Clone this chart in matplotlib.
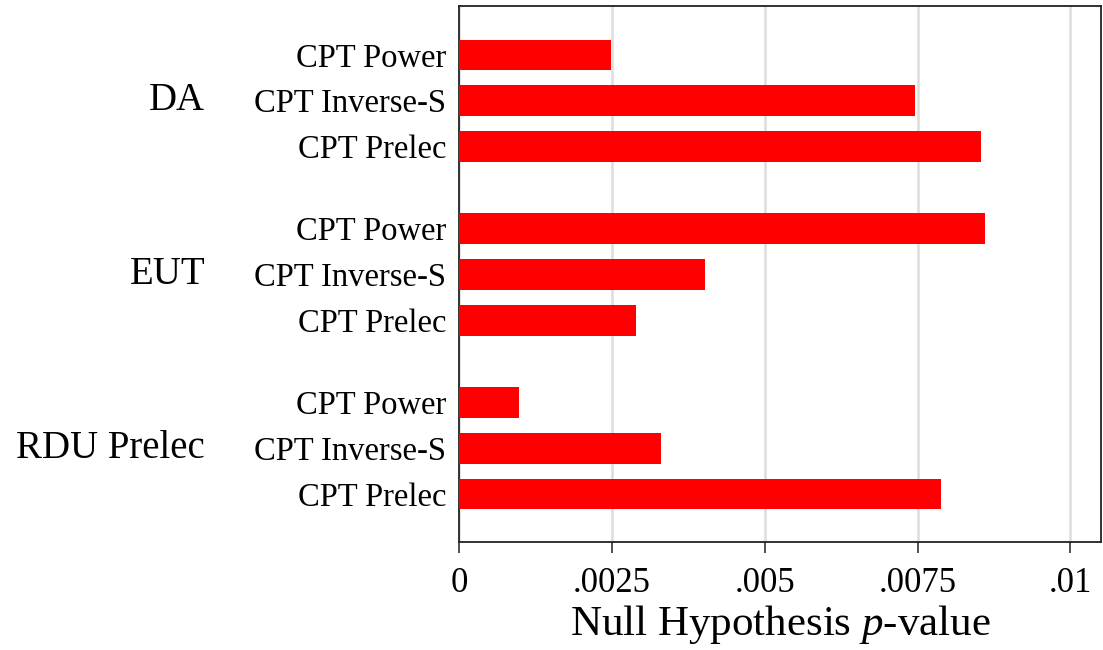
import matplotlib
matplotlib.use("Agg")
from matplotlib import pyplot as plt
import matplotlib.transforms as mtransforms

plt.rcParams['font.family'] = ['Liberation Serif', 'DejaVu Serif']
plt.rcParams['mathtext.fontset'] = 'custom'
plt.rcParams['mathtext.rm'] = 'Liberation Serif'
plt.rcParams['mathtext.it'] = 'Liberation Serif:italic'

groups = ['DA', 'EUT', 'RDU Prelec']
models = ['CPT Power', 'CPT Inverse-S', 'CPT Prelec']
pvalues = {
    'DA': [0.00249, 0.00745, 0.00854],
    'EUT': [0.00860, 0.00402, 0.00289],
    'RDU Prelec': [0.00098, 0.00331, 0.00788],
}
xticks = [0, 0.0025, 0.005, 0.0075, 0.01]
xticklabels = ['0', '.0025', '.005', '.0075', '.01']

group_step = 3.8  # three bars plus a gap

fig = plt.figure(figsize=(11.03, 6.5), dpi=100)
ax = fig.add_axes([459 / 1103, 108 / 650, (1101 - 459) / 1103, (542 - 6) / 650])

ypos, ylabels = [], []
trans = mtransforms.blended_transform_factory(ax.transAxes, ax.transData)
for g, name in enumerate(groups):
    base = g * group_step
    ys = [base + i for i in range(len(models))]
    ax.barh(ys, pvalues[name], height=0.67, color='#ff0000', zorder=3)
    ypos += ys
    ylabels += models
    ax.text(-0.3956, base + 1, name, transform=trans, ha='right', va='center',
            fontsize=28)

ax.set_yticks(ypos)
ax.set_yticklabels(ylabels, fontsize=23.5)
ax.tick_params(axis='y', length=0, pad=9)
ax.set_ylim(ypos[-1] + 1.05, -1.07)

ax.set_xlim(0, 0.0105)
ax.set_xticks(xticks)
ax.set_xticklabels(xticklabels, fontsize=25)
ax.tick_params(axis='x', length=8, width=1.2, pad=10, color='#333333')
ax.grid(axis='x', color='#dddddd', linewidth=1.8, zorder=0)
ax.set_xlabel('Null Hypothesis $\\it{p}$-value', fontsize=31, labelpad=2)

for sp in ax.spines.values():
    sp.set_color('#222222')
    sp.set_linewidth(1.3)

plt.savefig('out.png', dpi=100)
